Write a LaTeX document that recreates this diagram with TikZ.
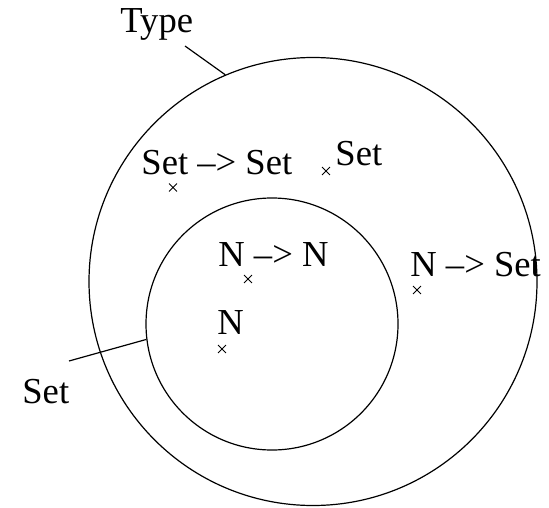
\documentclass[tikz,border=0pt]{standalone}
\usepackage{fontspec}
\setmainfont{Liberation Serif}
\usetikzlibrary{shapes.misc}

\begin{document}
\begin{tikzpicture}[
    x=0.5pt, y=-0.5pt,
    font=\fontsize{18.3}{22}\selectfont,
    ring/.style = {draw, circle, inner sep=0pt, line width=0.6pt},
    lbl/.style = {anchor=base west, inner sep=0pt},
    elem/.style = {draw, cross out, minimum size=3.5pt, inner sep=0pt, line width=0.45pt},
    leader/.style = {line width=0.6pt}
]
    \useasboundingbox (0,0) rectangle (549,507);
    \node[ring, minimum size=224pt] (outer) at (313,281.5) {};
    \node[ring, minimum size=126pt] (inner) at (272,324) {};

    \node[lbl] (typename) at (120,33) {Type};
    \coordinate (typefoot) at (185,46);
    \node[lbl] (setname) at (22,403) {Set};
    \coordinate (setfoot) at (69,361);

    \node[lbl] (setsetlbl) at (141,175) {Set –> Set};
    \node[elem] (setset) at (173,187.5) {};
    \node[lbl] (setlbl) at (335,166) {Set};
    \node[elem] (set) at (326,171) {};
    \node[lbl] (nsetlbl) at (410,276) {N –> Set};
    \node[elem] (nset) at (417,290) {};
    \node[lbl] (nnlbl) at (218,266) {N –> N};
    \node[elem] (nn) at (248,279) {};
    \node[lbl] (nlbl) at (217,334) {N};
    \node[elem] (n) at (222,349) {};

    \draw[leader] (typefoot) -- (outer.113);
    \draw[leader] (setfoot) -- (inner.187);
\end{tikzpicture}
\end{document}
